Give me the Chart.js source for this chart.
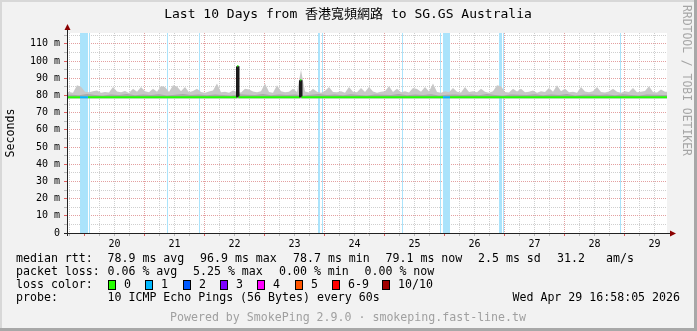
<!DOCTYPE html>
<html>
<head>
<meta charset="utf-8">
<script src="https://cdn.jsdelivr.net/npm/chart.js@4.4.1/dist/chart.umd.min.js"></script>
<style>
  html, body { margin: 0; padding: 0; background: #f2f2f2; }
  #wrap { width: 697px; height: 331px; }
</style>
</head>
<body>
<div id="wrap"><canvas id="smoke" width="697" height="331"></canvas></div>
<script>
// time axis in hours since Apr 19 00:00
const START_H = 16.968;   // Apr 19 16:58:05
const END_H = 256.968;    // Apr 29 16:58:05
const Y_MAX = 116.3;      // ms
const SMOKE_STEP = 1.6;   // hours per smoke sample
const MID_STEP = 3.2;

const dayTickHours = [36, 60, 84, 108, 132, 156, 180, 204, 228, 252];
const dayLabels = ['20', '21', '22', '23', '24', '25', '26', '27', '28', '29'];
const yTickValues = [0, 5, 10, 15, 20, 25, 30, 35, 40, 45, 50, 55, 60, 65, 70, 75, 80, 85, 90, 95, 100, 105, 110, 115];

// packet loss periods (1/10 lost), hours
const lossStart = [22.17, 25.77, 56.97, 69.77, 117.37, 118.97, 150.97, 166.17, 167.37, 189.77, 191.37, 238.17];
const lossEnd   = [25.37, 26.17, 57.37, 70.17, 118.17, 119.37, 151.37, 166.57, 170.17, 190.97, 191.77, 238.57];

// smoke: highest ping per sample (ms)
const smokeTop = [
  82.0, 81.6, 85.9, 85.0, 82.2, 81.8, 82.4, 82.9, 81.5, 82.0,
  81.7, 84.9, 82.3, 81.9, 82.6, 81.4, 83.9, 82.1, 84.9, 82.5,
  81.8, 83.9, 82.2, 85.5, 84.9, 82.0, 85.9, 85.2, 82.4, 84.9,
  81.9, 82.6, 83.9, 82.0, 81.6, 82.3, 82.9, 86.9, 81.8, 82.2,
  81.5, 82.9, 82.0, 81.7, 83.9, 83.5, 82.3, 81.9, 82.5, 86.9,
  82.0, 81.6, 85.9, 82.4, 81.8, 82.2, 83.9, 82.0, 95.0, 82.3,
  81.7, 83.9, 82.1, 81.5, 82.6, 84.9, 82.0, 81.8, 82.4, 81.6,
  84.9, 82.2, 81.9, 84.3, 82.0, 84.9, 82.3, 81.6, 82.1, 82.5,
  85.3, 82.0, 83.9, 81.8, 82.4, 81.7, 84.3, 83.8, 82.1, 84.9,
  82.3, 86.9, 82.0, 81.6, 82.4, 81.9, 84.3, 82.2, 81.7, 84.9,
  82.0, 82.5, 81.8, 83.9, 82.2, 81.6, 82.4, 85.9, 85.3, 82.0,
  81.7, 83.9, 82.3, 83.9, 81.9, 82.2, 82.9, 81.6, 82.4, 82.0,
  84.3, 82.1, 85.9, 82.4, 83.9, 81.8, 82.2, 81.6, 84.9, 82.3,
  81.9, 82.5, 84.9, 82.0, 81.7, 82.3, 83.9, 82.1, 81.6, 82.4,
  82.0, 84.3, 81.8, 82.2, 82.6, 85.3, 82.0, 81.7, 83.5, 82.2
];
// smoke: denser middle pings (ms)
const smokeMid = [
  80.4, 80.1, 80.8, 80.3, 80.0, 80.6, 80.2, 80.9, 80.1, 80.5,
  80.3, 80.7, 80.0, 80.4, 80.8, 80.2, 80.5, 80.1, 80.6, 80.3,
  80.0, 80.7, 80.4, 80.2, 80.9, 80.1, 80.5, 80.3, 80.6, 80.0,
  80.4, 80.8, 80.2, 80.5, 80.1, 80.7, 80.3, 80.0, 80.6, 80.4,
  80.2, 80.8, 80.1, 80.5, 80.3, 80.7, 80.0, 80.4, 80.6, 80.2,
  80.5, 80.1, 80.8, 80.3, 80.0, 80.6, 80.4, 80.2, 80.7, 80.1,
  80.5, 80.3, 80.9, 80.0, 80.4, 80.6, 80.2, 80.5, 80.1, 80.7,
  80.3, 80.0, 80.6, 80.4, 80.2
];
const SMOKE_FLOOR = 78.4;

// median rtt
const medianTimes  = [16.968, 22.17, 25.37, 84.97, 84.97, 85.57, 85.57, 110.17, 110.17, 110.77, 110.77, 167.37, 170.17, 256.968];
const medianValues = [78.9, 78.9, 78.9, 78.9, 96.9, 96.9, 78.9, 78.9, 88.8, 88.8, 78.9, 78.9, 78.9, 78.9];

const lossColors = ['#26ff00', '#00b8ff', '#0059ff', '#7e00ff', '#ff00ff', '#ff5500', '#ff0000', '#a10000'];
const lossNames = ['0', '1', '2', '3', '4', '5', '6-9', '10/10'];

const MONO = '"DejaVu Sans Mono", "Noto Sans CJK TC", monospace';

// build datasets
const lossPoints = [];
lossStart.forEach((s, i) => {
  lossPoints.push({ x: s, y: Y_MAX }, { x: lossEnd[i], y: Y_MAX }, { x: lossEnd[i], y: null });
});
function samplePoints(values, step) {
  const pts = [{ x: START_H, y: values[0] }];
  values.forEach((v, i) => pts.push({ x: START_H + (i + 0.5) * step, y: v }));
  pts.push({ x: END_H, y: values[values.length - 1] });
  return pts;
}
const topPoints = samplePoints(smokeTop, SMOKE_STEP);
const midPoints = samplePoints(smokeMid, MID_STEP);
const medianPoints = medianTimes.map((t, i) => ({ x: t, y: medianValues[i] }));

function inWideLoss(x) {
  for (let i = 0; i < lossStart.length; i++) {
    if (lossEnd[i] - lossStart[i] > 1 && x > lossStart[i] && x < lossEnd[i]) return true;
  }
  return false;
}

const xGridHours = [];
for (let h = 18; h <= 252; h += 6) xGridHours.push(h);

const framePlugin = {
  id: 'frame',
  beforeDraw(chart) {
    const { ctx, chartArea: ca, width: W, height: H } = chart;
    ctx.save();
    ctx.fillStyle = '#f2f2f2';
    ctx.fillRect(0, 0, W, H);
    ctx.fillStyle = '#d8d8d8';
    ctx.fillRect(0, 0, W, 2);
    ctx.fillRect(0, 0, 2, H);
    ctx.fillStyle = '#a8a8a8';
    ctx.fillRect(W - 3, 0, 3, H);
    ctx.fillRect(0, H - 3, W, 3);
    ctx.fillStyle = '#ffffff';
    ctx.fillRect(ca.left, ca.top, ca.right - ca.left, ca.bottom - ca.top);
    ctx.restore();
  },
  afterDraw(chart) {
    const { ctx, chartArea: ca } = chart;
    ctx.save();
    // axes
    ctx.strokeStyle = '#222';
    ctx.lineWidth = 1;
    ctx.beginPath();
    ctx.moveTo(ca.left + 0.5, ca.bottom + 3);
    ctx.lineTo(ca.left + 0.5, ca.top - 4);
    ctx.moveTo(ca.left - 3, ca.bottom + 0.5);
    ctx.lineTo(ca.right + 4, ca.bottom + 0.5);
    ctx.stroke();
    ctx.fillStyle = '#8b0000';
    ctx.beginPath();
    ctx.moveTo(ca.left + 0.5, ca.top - 9);
    ctx.lineTo(ca.left - 2.5, ca.top - 3);
    ctx.lineTo(ca.left + 3.5, ca.top - 3);
    ctx.closePath();
    ctx.fill();
    ctx.beginPath();
    ctx.moveTo(ca.right + 9, ca.bottom + 0.5);
    ctx.lineTo(ca.right + 3, ca.bottom - 2.5);
    ctx.lineTo(ca.right + 3, ca.bottom + 3.5);
    ctx.closePath();
    ctx.fill();

    // title
    ctx.fillStyle = '#000';
    ctx.textBaseline = 'middle';
    ctx.textAlign = 'center';
    ctx.font = '13px ' + MONO;
    ctx.fillText('Last 10 Days from 香港寬頻網路 to SG.GS Australia', 348, 15);

    // y title
    ctx.font = '11.6px ' + MONO;
    ctx.save();
    ctx.translate(11, 133);
    ctx.rotate(-Math.PI / 2);
    ctx.fillText('Seconds', 0, 0);
    ctx.restore();

    // watermark
    ctx.save();
    ctx.fillStyle = '#a6a6a6';
    ctx.font = '11.4px ' + MONO;
    ctx.translate(686, 5);
    ctx.rotate(Math.PI / 2);
    ctx.textAlign = 'left';
    ctx.fillText('RRDTOOL / TOBI OETIKER', 0, 0);
    ctx.restore();

    // legend
    ctx.textAlign = 'left';
    ctx.fillStyle = '#000';
    const row = (y, items) => items.forEach(([x, t]) => ctx.fillText(t, x, y));
    row(259, [[16, 'median rtt:'], [107.5, '78.9 ms avg'], [200, '96.9 ms max'], [293, '78.7 ms min'],
              [385.5, '79.1 ms now'], [478, '2.5 ms sd'], [557, '31.2'], [606, 'am/s']]);
    row(272, [[16, 'packet loss:'], [107.5, '0.06 % avg'], [193, '5.25 % max'], [279, '0.00 % min'], [364.5, '0.00 % now']]);
    row(285, [[16, 'loss color:']]);
    const sqX = [108, 145, 183, 220, 257, 295, 332, 382];
    lossColors.forEach((c, i) => {
      ctx.fillStyle = c;
      ctx.fillRect(sqX[i], 280, 8, 10);
      ctx.strokeStyle = '#000';
      ctx.strokeRect(sqX[i] + 0.5, 280.5, 7, 9);
      ctx.fillStyle = '#000';
      ctx.fillText(lossNames[i], sqX[i] + 16, 285);
    });
    row(298, [[16, 'probe:'], [107.5, '10 ICMP Echo Pings (56 Bytes) every 60s']]);
    ctx.textAlign = 'right';
    ctx.fillText('Wed Apr 29 16:58:05 2026', 680, 298);
    ctx.textAlign = 'center';
    ctx.fillStyle = '#a0a0a0';
    ctx.fillText('Powered by SmokePing 2.9.0 · smokeping.fast-line.tw', 348, 318);
    ctx.restore();
  }
};

new Chart(document.getElementById('smoke'), {
  type: 'line',
  data: {
    datasets: [
      {
        label: 'loss', data: lossPoints, order: 4,
        borderWidth: 0, pointRadius: 0, spanGaps: false,
        fill: 'origin', backgroundColor: '#abe3fb'
      },
      {
        label: 'smoke top', data: topPoints, order: 3,
        borderWidth: 0, pointRadius: 0,
        fill: { value: SMOKE_FLOOR }, backgroundColor: '#c8c8c8'
      },
      {
        label: 'smoke mid', data: midPoints, order: 2,
        borderWidth: 0, pointRadius: 0,
        fill: { value: SMOKE_FLOOR }, backgroundColor: '#a9a9a9'
      },
      {
        label: 'median rtt', data: medianPoints, order: 1,
        borderWidth: 2, pointRadius: 0, fill: false, borderColor: '#20ff00',
        segment: {
          borderColor: c => {
            if (c.p0.parsed.x === c.p1.parsed.x) return '#1a1a1a';
            return inWideLoss((c.p0.parsed.x + c.p1.parsed.x) / 2) ? '#00b8ff' : '#20ff00';
          }
        }
      }
    ]
  },
  options: {
    responsive: false,
    animation: false,
    devicePixelRatio: 1,
    layout: { padding: { top: 33, right: 30, left: 0, bottom: 0 } },
    plugins: { legend: { display: false }, tooltip: { enabled: false }, title: { display: false } },
    scales: {
      x: {
        type: 'linear', min: START_H, max: END_H,
        afterFit: s => { s.height = 98; },
        afterBuildTicks: s => { s.ticks = xGridHours.map(v => ({ value: v })); },
        ticks: {
          autoSkip: false, maxRotation: 0, padding: 2, color: '#000',
          font: { family: MONO, size: 10 },
          callback: v => { const k = dayTickHours.indexOf(v); return k >= 0 ? dayLabels[k] : ''; }
        },
        grid: {
          color: c => (c.tick && c.tick.value % 24 === 0) ? '#e3a0a0' : '#cfcfcf',
          tickColor: c => (c.tick && c.tick.value % 24 === 0) ? '#e06060' : '#bbbbbb',
          tickLength: 3
        },
        border: { display: false, dash: [1, 1] }
      },
      y: {
        min: 0, max: Y_MAX,
        afterFit: s => { s.width = 67; },
        afterBuildTicks: s => { s.ticks = yTickValues.map(v => ({ value: v })); },
        ticks: {
          autoSkip: false, padding: 4, color: '#000',
          font: { family: MONO, size: 10 },
          callback: v => (v % 10 === 0 ? (v === 0 ? '0' : v + ' m') : '')
        },
        grid: {
          color: c => (c.tick && c.tick.value % 10 === 0) ? '#e3a0a0' : '#cfcfcf',
          tickColor: c => (c.tick && c.tick.value % 10 === 0) ? '#e06060' : '#bbbbbb',
          tickLength: 3
        },
        border: { display: false, dash: [1, 1] }
      }
    }
  },
  plugins: [framePlugin]
});
</script>
</body>
</html>
